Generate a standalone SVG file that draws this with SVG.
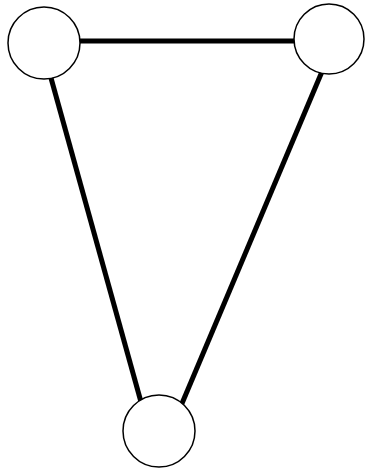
<svg xmlns="http://www.w3.org/2000/svg" width="366" height="469" viewBox="0 0 366 469">
<style>
.node{fill:#fff;stroke:#000;stroke-width:1.5}
.edge{stroke:#000;stroke-width:5;fill:none}
</style>
<rect width="366" height="469" fill="#fff"/>
<g id="connectors">
<line class="edge" x1="44" y1="41" x2="329" y2="41"/>
<line class="edge" x1="46" y1="60" x2="146" y2="420"/>
<line class="edge" x1="329" y1="55" x2="175" y2="420"/>
</g>
<g id="node-left"><circle class="node" cx="44" cy="43" r="36"/></g>
<g id="node-right"><circle class="node" cx="329" cy="39" r="35"/></g>
<g id="node-bottom"><circle class="node" cx="159" cy="431" r="36"/></g>
</svg>
